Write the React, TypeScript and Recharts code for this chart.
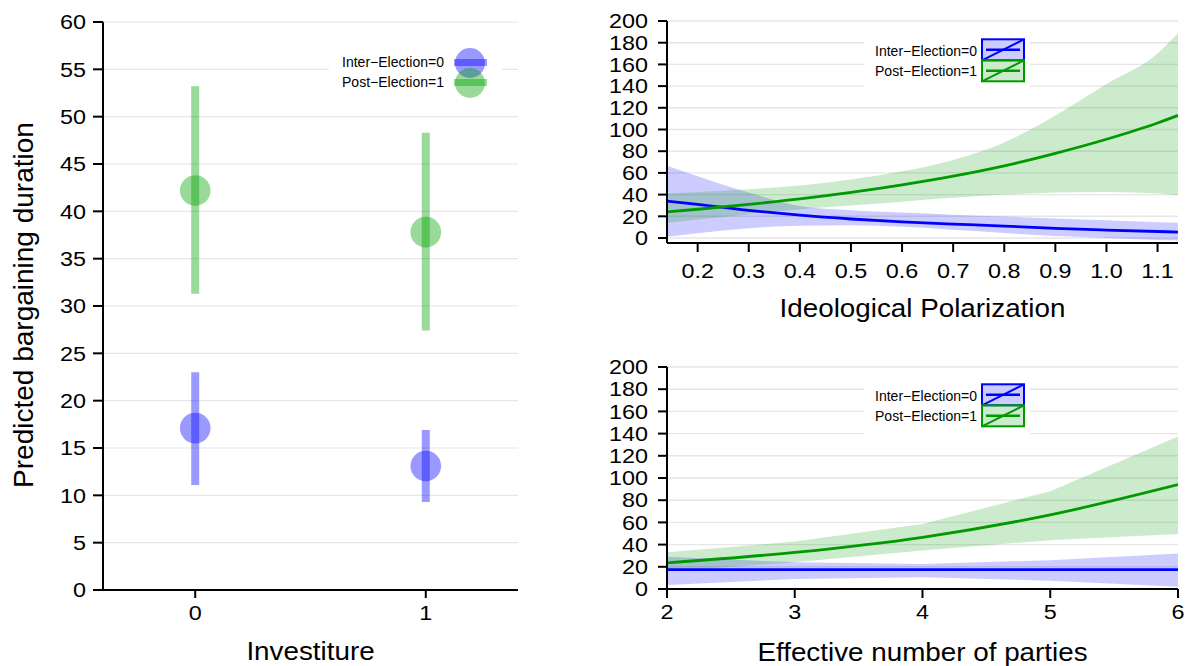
import React from 'react';
import {
  ComposedChart,
  Scatter,
  ErrorBar,
  XAxis,
  YAxis,
  CartesianGrid,
  Area,
  Line,
  Legend,
  Label,
} from 'recharts';

const FONT = "'Liberation Sans', Arial, Helvetica, sans-serif";

// ---------- shared ----------
const seriesNames = ['Inter\u2212Election=0', 'Post\u2212Election=1'];
const pointColors = ['#0000ff', '#00a000'];
const lineColors = ['#0000ff', '#009900'];

// ---------- left panel: Investiture ----------
const investitureCats = [0, 1];
const interMean = [17.1, 13.1];
const interLow = [11.1, 9.3];
const interHigh = [23.0, 16.9];
const postMean = [42.2, 37.8];
const postLow = [31.3, 27.4];
const postHigh = [53.2, 48.3];
const leftYTicks = [0, 5, 10, 15, 20, 25, 30, 35, 40, 45, 50, 55, 60];
const leftXTicks = [0, 1];

// ---------- top right: Ideological Polarization ----------
const polX = [0.14, 0.2, 0.3, 0.4, 0.5, 0.6, 0.7, 0.8, 0.9, 1.0, 1.1, 1.14];
const polInterFit = [34, 31, 25.5, 21, 17.5, 14.8, 12.8, 11, 8.8, 7.3, 6, 5.5];
const polInterHi = [66.5, 57, 42, 29.5, 25.5, 23.5, 21.5, 19.8, 18, 16.3, 14.6, 14];
const polInterLo = [1.2, 4.5, 9, 11.3, 11.8, 10.3, 7.6, 4.6, 1.8, 0, -1.8, -2.4];
const polPostFit = [24, 26.5, 31, 36, 42, 49, 57, 66.5, 78, 91, 106, 113];
const polPostHi = [41, 42.5, 45, 48.5, 54, 61.5, 72, 88, 113, 142, 170, 189];
const polPostLo = [14, 17, 22, 26.5, 30, 33.5, 37, 40, 42, 42.5, 41, 39.5];
const polXTicks = [0.2, 0.3, 0.4, 0.5, 0.6, 0.7, 0.8, 0.9, 1.0, 1.1];
const rightYTicks = [0, 20, 40, 60, 80, 100, 120, 140, 160, 180, 200];

// ---------- bottom right: Effective number of parties ----------
const partiesX = [2, 3, 4, 5, 6];
const partInterFit = [17.4, 17.4, 17.4, 17.4, 17.4];
const partInterHi = [29, 24, 22.5, 26, 32];
const partInterLo = [3.6, 9, 10.5, 7.5, 2];
const partPostFit = [23.5, 33, 46.6, 66.8, 94];
const partPostHi = [33, 42.7, 58.6, 88, 137.5];
const partPostLo = [16, 24, 34.6, 44, 49.6];
const partXTicks = [2, 3, 4, 5, 6];

// ---------- helpers ----------
const TICK_FS = 20.5;
const TICK_SX = 1.14;
const TITLE_FS = 26;
const TITLE_SX = 1.07;

const makeYTick = (fmt: (v: number) => string) => (props: any) => {
  const { x, y, payload } = props;
  return (
    <text
      transform={`translate(${x},${y}) scale(${TICK_SX},1)`}
      textAnchor="end"
      dy="0.355em"
      fontSize={TICK_FS}
      fontFamily={FONT}
      fill="#000"
    >
      {fmt(payload.value)}
    </text>
  );
};

const makeXTick = (fmt: (v: number) => string) => (props: any) => {
  const { x, y, payload } = props;
  return (
    <text
      transform={`translate(${x},${y}) scale(${TICK_SX},1)`}
      textAnchor="middle"
      dy="0.71em"
      fontSize={TICK_FS}
      fontFamily={FONT}
      fill="#000"
    >
      {fmt(payload.value)}
    </text>
  );
};

const intFmt = (v: number) => String(v);
const dec1Fmt = (v: number) => v.toFixed(1);

const xTitle = (text: string, cx: number, baseline: number) => () =>
  (
    <text
      transform={`translate(${cx},${baseline}) scale(${TITLE_SX},1)`}
      textAnchor="middle"
      fontSize={TITLE_FS}
      fontFamily={FONT}
      fill="#000"
    >
      {text}
    </text>
  );

const yTitle = (text: string, bx: number, cy: number) => () =>
  (
    <text
      transform={`translate(${bx},${cy}) rotate(-90)`}
      textAnchor="middle"
      fontSize={28}
      fontFamily={FONT}
      fill="#000"
    >
      {text}
    </text>
  );

const axisLineStyle = { stroke: '#000', strokeWidth: 2 };
const tickLineStyle = { stroke: '#000', strokeWidth: 2 };

// ---------- legends ----------
const LeftLegend = () => (
  <svg width={173} height={53} style={{ display: 'block' }}>
    <rect x={0} y={0} width={173} height={53} fill="#fff" />
    {seriesNames.map((n, i) => (
      <g key={n}>
        <text
          x={115}
          y={19.7 + 20 * i}
          textAnchor="end"
          fontSize={14}
          fontFamily={FONT}
          fill="#000"
        >
          {n}
        </text>
        <circle cx={141} cy={16 + 20 * i} r={15} fill={pointColors[i]} fillOpacity={0.4} />
        <line
          x1={125}
          x2={158}
          y1={15.5 + 20 * i}
          y2={15.5 + 20 * i}
          stroke={pointColors[i]}
          strokeOpacity={0.4}
          strokeWidth={7}
        />
      </g>
    ))}
  </svg>
);

const RightLegend = () => (
  <svg width={166} height={60} style={{ display: 'block' }}>
    <rect x={0} y={0} width={166} height={60} fill="#fff" />
    {seriesNames.map((n, i) => {
      const by = 9.3 + 21 * i;
      const bh = 21;
      return (
        <g key={n}>
          <text
            x={113}
            y={26 + 20 * i}
            textAnchor="end"
            fontSize={14}
            fontFamily={FONT}
            fill="#000"
          >
            {n}
          </text>
          <rect
            x={118}
            y={by}
            width={42}
            height={bh}
            fill={lineColors[i]}
            fillOpacity={0.2}
            stroke={lineColors[i]}
            strokeWidth={2}
          />
          <line
            x1={122}
            x2={156}
            y1={by + bh / 2}
            y2={by + bh / 2}
            stroke={lineColors[i]}
            strokeWidth={2.6}
          />
          <line
            x1={118}
            y1={by + bh}
            x2={160}
            y2={by}
            stroke={lineColors[i]}
            strokeWidth={2}
          />
        </g>
      );
    })}
  </svg>
);

// ---------- charts ----------
const interPts = investitureCats.map((c, i) => ({
  x: c,
  y: interMean[i],
  err: [interMean[i] - interLow[i], interHigh[i] - interMean[i]],
}));
const postPts = investitureCats.map((c, i) => ({
  x: c,
  y: postMean[i],
  err: [postMean[i] - postLow[i], postHigh[i] - postMean[i]],
}));

const circleShape = (color: string) => (p: any) =>
  <circle cx={p.cx} cy={p.cy} r={15.3} fill={color} fillOpacity={0.4} />;

function LeftChart() {
  return (
    <ComposedChart width={530} height={666} margin={{ top: 22, right: 12, bottom: 0, left: 0 }}>
      <CartesianGrid horizontal vertical={false} stroke="#e6e6e6" strokeWidth={1.2} />
      <XAxis
        type="number"
        dataKey="x"
        domain={[-0.4, 1.4]}
        ticks={leftXTicks}
        interval={0}
        allowDataOverflow
        height={76}
        axisLine={axisLineStyle}
        tickLine={tickLineStyle}
        tickSize={8}
        tickMargin={7}
        tick={makeXTick(intFmt)}
      >
        <Label content={xTitle('Investiture', 310.5, 660)} />
      </XAxis>
      <YAxis
        type="number"
        dataKey="y"
        domain={[0, 60]}
        ticks={leftYTicks}
        interval={0}
        allowDataOverflow
        width={103}
        axisLine={axisLineStyle}
        tickLine={tickLineStyle}
        tickSize={10}
        tickMargin={7}
        tick={makeYTick(intFmt)}
      >
        <Label content={yTitle('Predicted bargaining duration', 33, 305)} />
      </YAxis>
      <Scatter
        name={seriesNames[0]}
        data={interPts}
        fill={pointColors[0]}
        shape={circleShape(pointColors[0])}
        isAnimationActive={false}
      >
        <ErrorBar
          dataKey="err"
          direction="y"
          width={0}
          stroke={pointColors[0]}
          strokeOpacity={0.4}
          strokeWidth={8}
          isAnimationActive={false}
        />
      </Scatter>
      <Scatter
        name={seriesNames[1]}
        data={postPts}
        fill={pointColors[1]}
        shape={circleShape(pointColors[1])}
        isAnimationActive={false}
      >
        <ErrorBar
          dataKey="err"
          direction="y"
          width={0}
          stroke={pointColors[1]}
          strokeOpacity={0.4}
          strokeWidth={8}
          isAnimationActive={false}
        />
      </Scatter>
      <Legend
        layout="horizontal"
        verticalAlign="middle"
        align="center"
        content={() => <LeftLegend />}
        wrapperStyle={{ left: 329, top: 47, width: 173, height: 53 }}
      />
    </ComposedChart>
  );
}

const polData = polX.map((x, i) => ({
  x,
  interFit: polInterFit[i],
  interBand: [polInterLo[i], polInterHi[i]],
  postFit: polPostFit[i],
  postBand: [polPostLo[i], polPostHi[i]],
}));

const partData = partiesX.map((x, i) => ({
  x,
  interFit: partInterFit[i],
  interBand: [partInterLo[i], partInterHi[i]],
  postFit: partPostFit[i],
  postBand: [partPostLo[i], partPostHi[i]],
}));

function BandChart(props: {
  data: any[];
  height: number;
  marginTop: number;
  xAxisHeight: number;
  xDomain: [number, number];
  yDomain: [number, number];
  xTicks: number[];
  xFmt: (v: number) => string;
  xTickMargin: number;
  title: string;
  titleBaseline: number;
  bandType: 'linear' | 'monotone';
  legendTop: number;
}) {
  const p = props;
  return (
    <ComposedChart
      width={631}
      height={p.height}
      data={p.data}
      margin={{ top: p.marginTop, right: 13, bottom: 0, left: 0 }}
    >
      <CartesianGrid horizontal vertical={false} stroke="#e6e6e6" strokeWidth={1.4} />
      <XAxis
        type="number"
        dataKey="x"
        domain={p.xDomain}
        ticks={p.xTicks}
        interval={0}
        allowDataOverflow
        height={p.xAxisHeight}
        axisLine={axisLineStyle}
        tickLine={tickLineStyle}
        tickSize={9}
        tickMargin={p.xTickMargin}
        tick={makeXTick(p.xFmt)}
      >
        <Label content={xTitle(p.title, 362.5, p.titleBaseline)} />
      </XAxis>
      <YAxis
        type="number"
        domain={p.yDomain}
        ticks={rightYTicks}
        interval={0}
        allowDataOverflow
        width={107}
        axisLine={axisLineStyle}
        tickLine={tickLineStyle}
        tickSize={9}
        tickMargin={10}
        tick={makeYTick(intFmt)}
      />
      <Area
        dataKey="interBand"
        type={p.bandType}
        stroke="none"
        fill={lineColors[0]}
        fillOpacity={0.2}
        dot={false}
        activeDot={false}
        isAnimationActive={false}
      />
      <Area
        dataKey="postBand"
        type={p.bandType}
        stroke="none"
        fill={lineColors[1]}
        fillOpacity={0.2}
        dot={false}
        activeDot={false}
        isAnimationActive={false}
      />
      <Line
        dataKey="interFit"
        name={seriesNames[0]}
        type="monotone"
        stroke={lineColors[0]}
        strokeWidth={2.8}
        dot={false}
        activeDot={false}
        isAnimationActive={false}
      />
      <Line
        dataKey="postFit"
        name={seriesNames[1]}
        type="monotone"
        stroke={lineColors[1]}
        strokeWidth={2.8}
        dot={false}
        activeDot={false}
        isAnimationActive={false}
      />
      <Legend
        layout="horizontal"
        verticalAlign="middle"
        align="center"
        content={() => <RightLegend />}
        wrapperStyle={{ left: 304, top: p.legendTop, width: 166, height: 60 }}
      />
    </ComposedChart>
  );
}

export default function App() {
  return (
    <div
      style={{
        position: 'absolute',
        left: 0,
        top: 0,
        width: 1191,
        height: 666,
        background: '#fff',
        fontFamily: FONT,
        overflow: 'hidden',
      }}
    >
      <div style={{ position: 'absolute', left: 0, top: 0 }}>
        <LeftChart />
      </div>
      <div style={{ position: 'absolute', left: 560, top: 0 }}>
        <BandChart
          data={polData}
          height={330}
          marginTop={21}
          xAxisHeight={87}
          xDomain={[0.14, 1.14]}
          yDomain={[-4.6, 200]}
          xTicks={polXTicks}
          xFmt={dec1Fmt}
          xTickMargin={11}
          title="Ideological Polarization"
          titleBaseline={316.7}
          bandType="monotone"
          legendTop={30}
        />
      </div>
      <div style={{ position: 'absolute', left: 560, top: 340 }}>
        <BandChart
          data={partData}
          height={326}
          marginTop={27}
          xAxisHeight={77}
          xDomain={[2, 6]}
          yDomain={[0, 200]}
          xTicks={partXTicks}
          xFmt={intFmt}
          xTickMargin={6}
          title="Effective number of parties"
          titleBaseline={321}
          bandType="linear"
          legendTop={35}
        />
      </div>
    </div>
  );
}
